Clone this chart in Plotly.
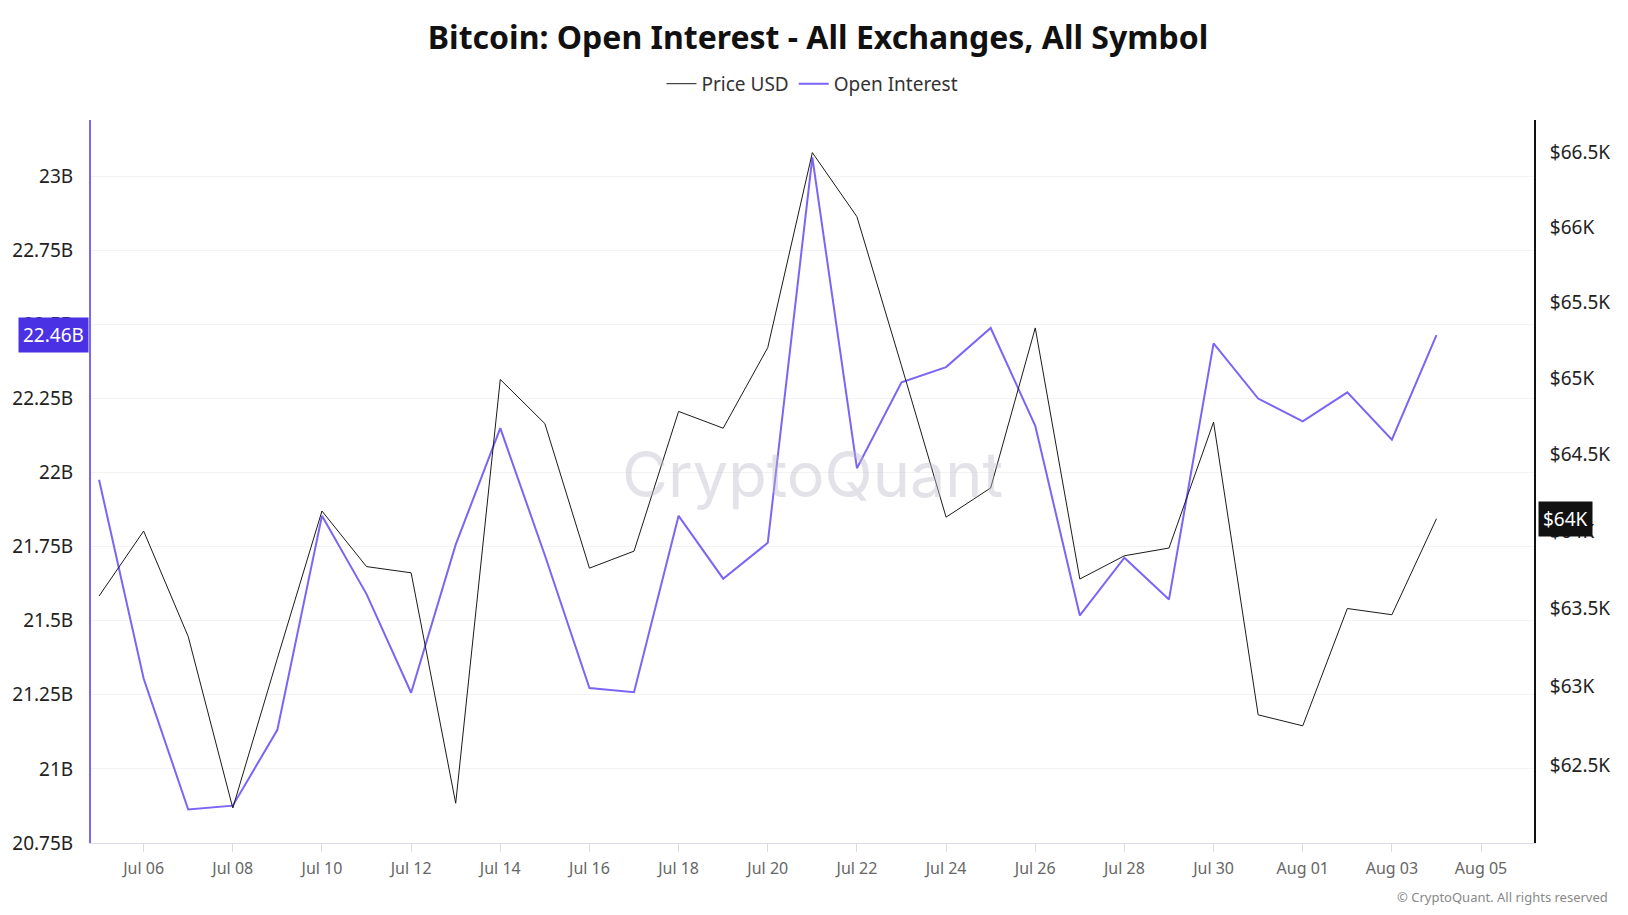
#!/usr/bin/env python3
# Bitcoin open interest vs price, two y axes (price on a log scale).

import math

import pandas as pd
import plotly.graph_objects as go

# daily values, Jul 05 .. Aug 04
dates = pd.date_range("2024-07-05", "2024-08-04", freq="D")

price_usd = [
    63580, 64000, 63320, 62230, 63180, 64130, 63770, 63730, 62260, 64990,
    64700, 63760, 63870, 64780, 64670, 65200, 66500, 66070, 65080, 64090,
    64280, 65330, 63690, 63840, 63890, 64710, 62820, 62750, 63500, 63460,
    64080,
]

open_interest_b = [
    21.976, 21.305, 20.863, 20.876, 21.132, 21.854, 21.590, 21.257, 21.757, 22.150,
    21.721, 21.273, 21.259, 21.854, 21.642, 21.763, 23.064, 22.015, 22.305, 22.356,
    22.488, 22.158, 21.518, 21.713, 21.572, 22.436, 22.250, 22.173, 22.271, 22.111,
    22.464,
]

price_ticks = [62500, 63000, 63500, 64000, 64500, 65000, 65500, 66000, 66500]
price_tick_text = ["$62.5K", "$63K", "$63.5K", "$64K", "$64.5K", "$65K", "$65.5K", "$66K", "$66.5K"]

FONT = "Noto Sans"
PURPLE = "#7a65f6"

fig = go.Figure()

fig.add_trace(go.Scatter(
    x=dates, y=price_usd, name="Price USD", mode="lines",
    line=dict(color="#1a1a1a", width=1), yaxis="y2",
))
fig.add_trace(go.Scatter(
    x=dates, y=open_interest_b, name="Open Interest", mode="lines",
    line=dict(color=PURPLE, width=2), yaxis="y",
))

# the page body adds an 8px offset, so the figure is 8px smaller on each axis
fig.update_layout(
    width=1620, height=907,
    margin=dict(l=83, r=94, t=112, b=72),
    paper_bgcolor="white", plot_bgcolor="white",
    font=dict(family=FONT, color="#222"),
    title=dict(
        text="<b>Bitcoin: Open Interest - All Exchanges, All Symbol</b>",
        x=0.5, xanchor="center", y=0.967, yanchor="middle",
        font=dict(size=32, color="#111"),
    ),
    legend=dict(
        orientation="h", x=0.5, xanchor="center", y=1.05, yanchor="middle",
        font=dict(size=19, color="#333"), itemwidth=30,
    ),
    showlegend=True,
    hovermode="x unified",
    xaxis=dict(
        type="date",
        range=["2024-07-04 19:40", "2024-08-06 04:30"],
        tick0="2024-07-06", dtick=2 * 86400000, tickformat="%b %d",
        ticks="outside", ticklen=8, tickcolor="#dcdce8",
        showline=True, linecolor="#dcdce8", linewidth=1,
        showgrid=False, zeroline=False, automargin=False,
        ticklabelstandoff=3,
        tickfont=dict(size=16, color="#666"),
    ),
    yaxis=dict(
        range=[20.75, 23.19], dtick=0.25, ticksuffix="B",
        showline=True, linecolor=PURPLE, linewidth=2,
        showgrid=True, gridcolor="#f3f3f3", zeroline=False, automargin=False,
        ticks="", ticklabelstandoff=12, tickfont=dict(size=19, color="#222"),
    ),
    yaxis2=dict(
        type="log", overlaying="y", side="right",
        range=[math.log10(62010), math.log10(66720)],
        tickvals=price_ticks, ticktext=price_tick_text,
        showline=True, linecolor="#111", linewidth=2,
        showgrid=False, zeroline=False, automargin=False,
        ticks="", ticklabelstandoff=10, tickfont=dict(size=19, color="#222"),
    ),
)

# watermark and footer
fig.add_annotation(
    text="CryptoQuant", xref="paper", yref="paper", x=0.5, y=0.51,
    showarrow=False, font=dict(size=63, color="rgba(185,185,200,0.42)", family="Inter"),
)
fig.add_annotation(
    text="© CryptoQuant. All rights reserved", xref="paper", yref="paper",
    x=1.053, y=-0.075, xanchor="right", yanchor="middle", showarrow=False,
    font=dict(size=13, color="#888"),
)

# last-value tags on both axes
fig.add_annotation(
    text=f"{open_interest_b[-1]:.2f}B", xref="paper", yref="y",
    x=0, y=open_interest_b[-1], xanchor="right", xshift=-2, showarrow=False,
    bgcolor="#4b31e4", borderpad=4, font=dict(size=19, color="white"),
)
fig.add_annotation(
    text=f"${price_usd[-1] / 1000:.0f}K", xref="paper", yref="y2",
    x=1, y=math.log10(price_usd[-1]), xanchor="left", xshift=4, showarrow=False,
    bgcolor="#111", borderpad=4, font=dict(size=19, color="white"),
)

fig.write_html("out.html")
